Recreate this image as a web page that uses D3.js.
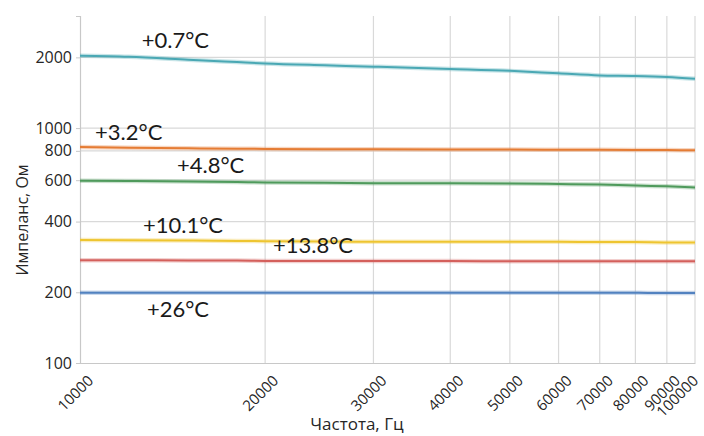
<!DOCTYPE html>
<html>
<head>
<meta charset="utf-8">
<script src="https://cdn.jsdelivr.net/npm/d3@7"></script>
<style>
  html, body { margin:0; padding:0; background:#fff; }
  svg text { font-family: "Open Sans", "DejaVu Sans", sans-serif; }
</style>
</head>
<body>
<div id="chart"></div>
<script>
// impedance vs frequency at different temperatures (log/log)
const freqs = [10000, 12000, 15000, 18000, 20000, 25000, 30000, 40000, 50000, 60000, 70000, 80000, 90000, 100000];

const imp07  = [2030, 2010, 1955, 1910, 1885, 1850, 1825, 1785, 1752, 1710, 1676, 1668, 1650, 1620];
const imp32  = [830, 825, 820, 817, 815, 813, 812, 810, 810, 809, 808, 807, 806, 805];
const imp48  = [597, 595, 592, 589, 587, 585, 583, 582, 581, 578, 575, 569, 565, 559];
const imp101 = [334, 333, 332, 331, 330, 329, 328, 328, 328, 328, 327, 327, 326, 326];
const imp138 = [274, 274, 273, 273, 272, 272, 272, 272, 271, 271, 271, 271, 271, 271];
const imp26  = [199, 199, 199, 199, 199, 199, 199, 199, 199, 199, 199, 199, 198.5, 198.5];

const seriesNames = ['+0.7°C', '+3.2°C', '+4.8°C', '+10.1°C', '+13.8°C', '+26°C'];
const seriesValues = [imp07, imp32, imp48, imp101, imp138, imp26];
const seriesColors = ['#4aa8b4', '#e57c34', '#4f9a5c', '#eec530', '#d4605c', '#5282c0'];

// where each temperature label sits (in data units: freq, impedance)
const labelFreq = [12600, 10580, 14380, 12660, 20600, 12850];
const labelImp  = [2190, 889, 643, 357, 294, 157];

const xTicks = [10000, 20000, 30000, 40000, 50000, 60000, 70000, 80000, 90000, 100000];
const yTicks = [100, 200, 400, 600, 800, 1000, 2000];

(function(){
  const W = 704, H = 436;
  const m = {left:80, right:9, top:16, bottom:73};
  const svg = d3.select('#chart').append('svg').attr('width', W).attr('height', H);

  const x = d3.scaleLog().domain([10000, 100000]).range([m.left, W - m.right]);
  const y = d3.scaleLog().domain([100, 3000]).range([H - m.bottom, m.top]);

  // grid
  svg.append('g').selectAll('line').data(xTicks.slice(1)).join('line')
    .attr('x1', d => x(d)).attr('x2', d => x(d))
    .attr('y1', m.top).attr('y2', H - m.bottom)
    .attr('stroke', '#d9d9d9').attr('stroke-width', 1.2);
  svg.append('g').selectAll('line').data(yTicks.slice(1)).join('line')
    .attr('x1', m.left).attr('x2', W - m.right)
    .attr('y1', d => y(d)).attr('y2', d => y(d))
    .attr('stroke', '#d9d9d9').attr('stroke-width', 1.2);

  // axes
  const yAxis = svg.append('g').attr('transform', `translate(${m.left},0)`)
    .call(d3.axisLeft(y).tickValues(yTicks).tickFormat(d3.format('d')).tickSize(4).tickPadding(4));
  const xAxis = svg.append('g').attr('transform', `translate(0,${H - m.bottom})`)
    .call(d3.axisBottom(x).tickValues(xTicks).tickFormat(d3.format('d')).tickSize(0));
  [yAxis, xAxis].forEach(a => {
    a.select('.domain').attr('stroke', '#c8c8c8').attr('stroke-width', 1.2);
    a.selectAll('.tick line').attr('stroke', '#c8c8c8');
    a.selectAll('text').attr('fill', '#262626').style('font-size', '16px');
  });
  // rotated labels; keep the last one inside the page
  xAxis.selectAll('text')
    .style('font-size', '15px')
    .attr('text-anchor', 'end')
    .attr('transform', d => `translate(${Math.min(10, 695 - x(d))},15) rotate(-45)`)
    .attr('dy', '0.35em').attr('y', 0);

  // series lines (soft halo + core stroke)
  const line = d3.line().x((d, i) => x(freqs[i])).y(d => y(d)).curve(d3.curveMonotoneX);
  seriesValues.forEach((vals, k) => {
    svg.append('path').datum(vals)
      .attr('fill', 'none').attr('stroke', seriesColors[k])
      .attr('opacity', 0.3).attr('stroke-width', 4.5).attr('d', line);
    svg.append('path').datum(vals)
      .attr('fill', 'none').attr('stroke', seriesColors[k])
      .attr('stroke-width', 2).attr('d', line);
  });

  // temperature labels
  svg.append('g').selectAll('text').data(seriesNames).join('text')
    .attr('x', (d, i) => x(labelFreq[i]))
    .attr('y', (d, i) => y(labelImp[i]))
    .attr('fill', '#1a1a1a')
    .style('font-family', 'Lato, "Open Sans", sans-serif')
    .style('font-size', '22px')
    .text(d => d);

  // axis titles
  svg.append('text').attr('x', 357).attr('y', 430)
    .attr('text-anchor', 'middle').attr('fill', '#262626')
    .style('font-size', '17px').text('Частота, Гц');
  svg.append('text').attr('transform', 'translate(28,220) rotate(-90)')
    .attr('text-anchor', 'middle').attr('fill', '#262626')
    .style('font-size', '16px').text('Импеланс, Ом');
})();
</script>
</body>
</html>
